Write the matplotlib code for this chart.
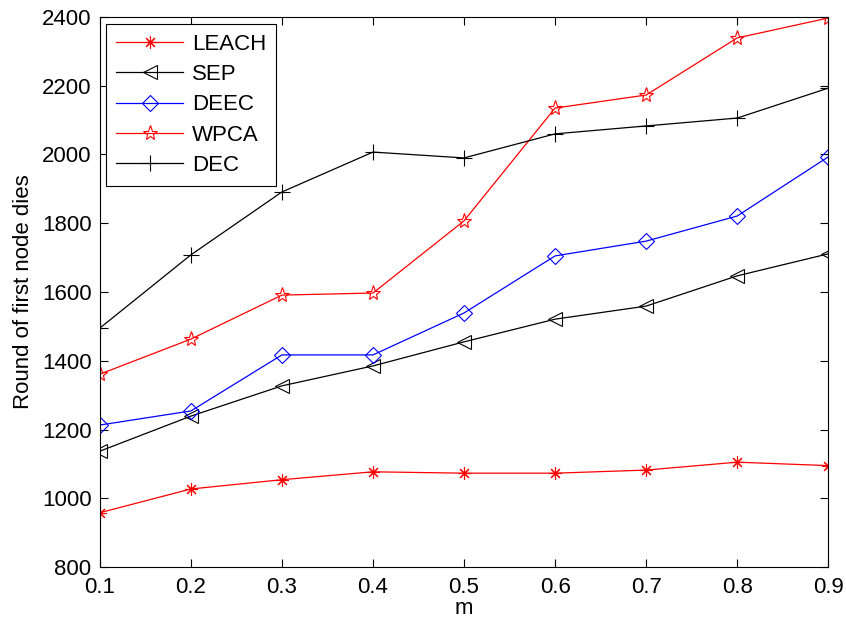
import matplotlib.pyplot as plt
import numpy as np

plt.rcParams.update({
    "font.family": ["Liberation Sans", "DejaVu Sans"],
    "font.size": 16,
    "axes.linewidth": 0.8,
})

m = [0.1, 0.2, 0.3, 0.4, 0.5, 0.6, 0.7, 0.8, 0.9]
leach = [958, 1027, 1054, 1077, 1073, 1073, 1082, 1105, 1095]
sep = [1137, 1239, 1327, 1385, 1455, 1521, 1559, 1647, 1711]
deec = [1213, 1254, 1417, 1417, 1539, 1705, 1748, 1821, 1993]
wpca = [1361, 1463, 1591, 1597, 1807, 2135, 2173, 2339, 2397]
dec = [1495, 1708, 1891, 2007, 1990, 2060, 2083, 2106, 2193]

fig = plt.figure(figsize=(8.46, 6.24), dpi=100)
ax = fig.add_axes([0.118, 0.0913, 0.861, 0.8815])

# MATLAB-style asterisk (plus + cross)
asterisk = (8, 2, 0)

ax.plot(m, leach, color='red', marker=asterisk, markersize=9, markerfacecolor='none',
        markeredgewidth=0.8, linewidth=0.9, label='LEACH')
ax.plot(m, sep, color='black', marker='<', markersize=10, markerfacecolor='none',
        markeredgewidth=0.8, linewidth=0.9, label='SEP')
ax.plot(m, deec, color='blue', marker='D', markersize=8, markerfacecolor='none',
        markeredgewidth=0.8, linewidth=0.9, label='DEEC')
ax.plot(m, wpca, color='red', marker='*', markersize=11, markerfacecolor='none',
        markeredgewidth=0.8, linewidth=0.9, label='WPCA')
ax.plot(m, dec, color='black', marker='+', markersize=12, markerfacecolor='none',
        markeredgewidth=0.8, linewidth=0.9, label='DEC')

ax.set_xlim(0.1, 0.9)
ax.set_ylim(800, 2400)
ax.set_xticks(m)
ax.set_xticklabels(['0.1', '0.2', '0.3', '0.4', '0.5', '0.6', '0.7', '0.8', '0.9'])
ax.set_yticks(np.arange(800, 2401, 200))
ax.tick_params(direction='in', top=True, right=True, length=6, labelsize=16)
ax.tick_params(axis='x', pad=7)
ax.tick_params(axis='y', pad=6)

ax.set_xlabel('m', fontsize=16, labelpad=0)
ax.set_ylabel('Round of first node dies', fontsize=16, labelpad=6)

leg = ax.legend(loc='upper left', fancybox=False, edgecolor='black', framealpha=1,
                fontsize=16, handlelength=3.0, borderaxespad=0.3, labelspacing=0.42,
                handletextpad=0.4, borderpad=0.45)
leg.get_frame().set_linewidth(0.8)

plt.savefig('out.png', dpi=100)
